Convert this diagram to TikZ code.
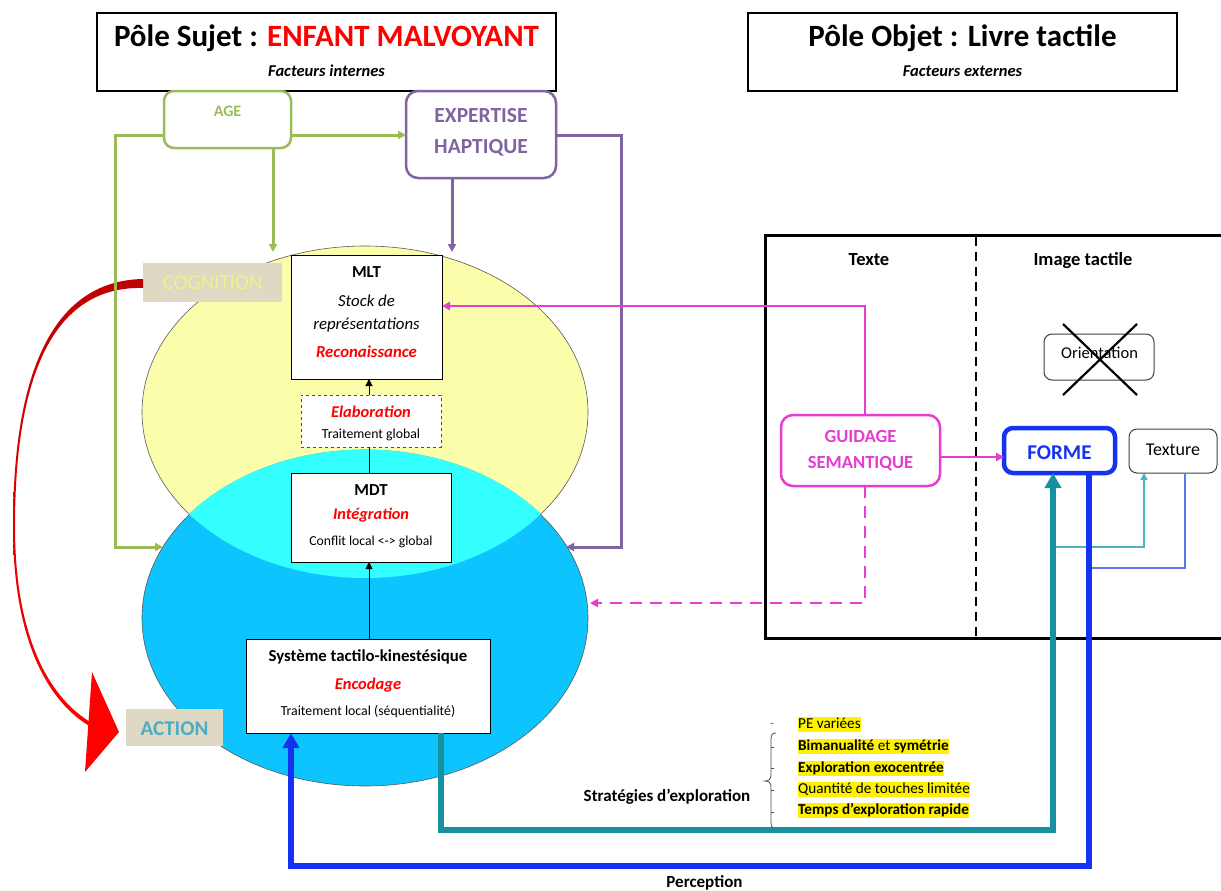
\documentclass[tikz,border=0pt]{standalone}
\usepackage{fontspec}
\setmainfont{Carlito}
\usetikzlibrary{arrows.meta,calc}
\definecolor{cgreen}{HTML}{9BBB59}
\definecolor{cpurple}{HTML}{8064A2}
\definecolor{cmag}{HTML}{E63CD2}
\definecolor{cblue}{HTML}{1432F0}
\definecolor{cteal}{HTML}{17919F}
\definecolor{cteallt}{HTML}{4DB3C2}
\definecolor{cbluelt}{HTML}{5A78F0}
\definecolor{ctan}{HTML}{DDD9C3}
\definecolor{ccog}{HTML}{F0F08C}
\definecolor{cact}{HTML}{4BACC6}
\definecolor{cyel}{HTML}{FAFDAA}
\definecolor{ccyan}{HTML}{33FFFF}
\definecolor{cell}{HTML}{0DC4FF}
\definecolor{cdred}{HTML}{C00000}
\newcommand\myfs[1]{\fontsize{#1}{#1}\selectfont}
\begin{document}
\begin{tikzpicture}[x=1pt,y=-1pt,
  bx/.style={inner sep=0pt, outer sep=0pt},
  txt/.style={inner sep=0pt, anchor=base, align=center},
  hl/.style={inner sep=0pt, anchor=base west, fill=yellow, text height=11.5pt, text depth=3.5pt, font=\myfs{15.2}},
  gline/.style={cgreen, line width=3pt},
  pline/.style={cpurple, line width=3pt},
  mline/.style={cmag, line width=2.8pt},
  tip/.style={-{Triangle[length=8pt,width=8pt]}},
  bigtip/.style={-{Triangle[length=15pt,width=16pt]}}
]
\clip (0,0) rectangle (1221,891);
\fill[white] (0,0) rectangle (1221,891);

% ellipses
\fill[cyel, draw=black!65, line width=0.6pt] (365,412) ellipse [x radius=223pt, y radius=166pt];
\fill[cell, draw=black!65, line width=0.6pt] (365,618) ellipse [x radius=223pt, y radius=168pt];
\begin{scope}
  \clip (365,618) ellipse [x radius=223pt, y radius=168pt];
  \fill[ccyan] (365,412) ellipse [x radius=223pt, y radius=166pt];
\end{scope}
\begin{scope}
  \clip (365,412) ellipse [x radius=223pt, y radius=166pt];
  \draw[ccyan, line width=0.9pt] (365,618) ellipse [x radius=223pt, y radius=168pt];
\end{scope}

% title boxes
\node[bx, draw, line width=1.8pt, minimum width=459pt, minimum height=78pt] (poleS) at (326.5,52) {};
\node[txt, font=\bfseries\myfs{31}] (poleSt) at (326.5,47) {Pôle Sujet : \textcolor{red}{ENFANT MALVOYANT}};
\node[txt, font=\bfseries\itshape\myfs{16.5}] (poleSf) at (326.5,77) {Facteurs internes};
\node[bx, draw, line width=1.8pt, minimum width=429pt, minimum height=78pt] (poleO) at (962.5,52) {};
\node[txt, font=\bfseries\myfs{31}] (poleOt) at (962.5,47) {Pôle Objet : Livre tactile};
\node[txt, font=\bfseries\itshape\myfs{16.5}] (poleOf) at (962.5,77) {Facteurs externes};

% red curve COGNITION -> ACTION
\node[bx, fill=ctan, minimum width=139pt, minimum height=39pt] (cog) at (212.5,282.5) {};
\node[bx, fill=ctan, minimum width=97pt, minimum height=37pt] (act) at (174.5,727.5) {};
\shade[top color=cdred, bottom color=red]
  ($(cog.west)+(0,-3.5)$) .. controls (28,281) and (13,430) .. (13,527)
  .. controls (13,640) and (48,703) .. (92,727.5)
  -- (92,723) .. controls (51,699.5) and (15,640) .. (15,527)
  .. controls (15,432) and (29,285) .. ($(cog.west)+(0,5.5)$) -- cycle;
\fill[red] (92,672) -- ($(act.west)+(-7,4.5)$) -- (85,772) -- cycle;

% AGE / EXPERTISE
\node[bx, draw=cgreen, line width=2.5pt, rounded corners=10pt, minimum width=127pt, minimum height=57pt] (age) at (227.5,119.5) {};
\node[txt, font=\bfseries\myfs{16}, text=cgreen] (aget) at (227.5,117) {AGE};
\node[bx, draw=cpurple, line width=2.5pt, rounded corners=12pt, minimum width=150pt, minimum height=87pt] (exp) at (481,134.5) {};
\node[txt, font=\bfseries\myfs{21.5}, text=cpurple] (expt1) at (481,122) {EXPERTISE};
\node[txt, font=\bfseries\myfs{21.5}, text=cpurple] (expt2) at (481,153) {HAPTIQUE};

\coordinate (gTop) at (273,252);
\coordinate (gIn) at (163,547);
\coordinate (pTop) at (452,252);
\coordinate (pIn) at (566,547);
\draw[gline, tip] (age.east |- 0,135) -- (exp.west |- 0,135);
\draw[gline, tip] (age.west |- 0,135) -- (115,135) -- (115,547) -- (gIn);
\draw[gline, tip] (age.south -| 273,0) -- (gTop);
\draw[pline, tip] (exp.south -| 452,0) -- (pTop);
\draw[pline, tip] (exp.east |- 0,135) -- (621,135) -- (621,547) -- (pIn);

\node[txt, font=\myfs{21}, text=ccog] (cogt) at (212.5,289) {COGNITION};
\node[txt, font=\bfseries\myfs{21}, text=cact] (actt) at (174.5,735) {ACTION};

% central boxes
\node[bx, draw, fill=white, line width=1pt, minimum width=151pt, minimum height=124pt] (mlt) at (366.5,317) {};
\node[txt, font=\bfseries\myfs{16.8}] (mlt1) at (366.5,277) {MLT};
\node[txt, font=\itshape\myfs{16.8}] (mlt2) at (366.5,306) {Stock de};
\node[txt, font=\itshape\myfs{16.8}] (mlt3) at (366.5,329) {représentations};
\node[txt, font=\bfseries\itshape\myfs{16.8}, text=red] (mlt4) at (366.5,357) {Reconaissance};

\node[bx, draw=black!70, dashed, fill=white, line width=1pt, minimum width=140pt, minimum height=52pt] (ela) at (371,421) {};
\node[txt, font=\bfseries\itshape\myfs{16.5}, text=red] (ela1) at (371,417) {Elaboration};
\node[txt, font=\myfs{13.8}] (ela2) at (371,438) {Traitement global};

\node[bx, draw, fill=white, line width=1pt, minimum width=160pt, minimum height=89pt] (mdt) at (371,517.5) {};
\node[txt, font=\bfseries\myfs{16.8}] (mdt1) at (371,495) {MDT};
\node[txt, font=\bfseries\itshape\myfs{16.3}, text=red] (mdt2) at (371,519) {Intégration};
\node[txt, font=\myfs{13.7}] (mdt3) at (371,545) {Conflit local <-> global};

\node[bx, draw, fill=white, line width=1pt, minimum width=244pt, minimum height=94pt] (sys) at (368,686) {};
\node[txt, font=\bfseries\myfs{16.8}] (sys1) at (368,661) {Système tactilo-kinestésique};
\node[txt, font=\bfseries\itshape\myfs{16.5}, text=red] (sys2) at (368,689) {Encodage};
\node[txt, font=\myfs{13.8}] (sys3) at (368,715) {Traitement local (séquentialité)};

\draw[line width=1pt, -{Triangle[length=7pt,width=7pt]}] (ela.north -| 369,0) -- (mlt.south -| 369,0);
\draw[line width=1pt] (mdt.north -| 369,0) -- (ela.south -| 369,0);
\draw[line width=1pt, -{Triangle[length=7pt,width=7pt]}] (sys.north -| 369,0) -- (mdt.south -| 369,0);

% right panel
\node[bx, draw, line width=3pt, minimum width=470pt, minimum height=403pt] (panel) at (1000,436.5) {};
\draw[line width=2.5pt, dash pattern=on 9pt off 6pt] (976,236.5) -- (976,636.5);
\node[txt, font=\bfseries\myfs{18.5}] (texte) at (869,265) {Texte};
\node[txt, font=\bfseries\myfs{18.5}] (imgt) at (1083,265) {Image tactile};

\node[bx, draw=black!75, line width=1pt, rounded corners=8pt, minimum width=110pt, minimum height=46pt] (orient) at (1099,357) {};
\node[txt, font=\myfs{16.5}] (orientt) at (1099.5,358) {Orientation};
\draw[line width=2.2pt] (1063,324) -- (1137,395);
\draw[line width=2.2pt] (1137,324) -- (1063,395);

\node[bx, draw=cmag, line width=2.5pt, rounded corners=12pt, minimum width=159pt, minimum height=71pt] (guid) at (860.5,450.5) {};
\node[txt, font=\bfseries\myfs{18.5}, text=cmag] (guid1) at (860.5,442) {GUIDAGE};
\node[txt, font=\bfseries\myfs{18.5}, text=cmag] (guid2) at (860.5,468) {SEMANTIQUE};

\node[bx, draw=cblue, line width=4.5pt, rounded corners=9pt, minimum width=111pt, minimum height=45pt] (forme) at (1059.5,450.5) {};
\node[txt, font=\bfseries\myfs{21}, text=cblue] (formet) at (1059.5,459) {FORME};
\node[bx, draw=black!75, line width=1pt, rounded corners=8pt, minimum width=88pt, minimum height=44pt] (tex) at (1173,451) {};
\node[txt, font=\myfs{18}] (text) at (1173,455) {Texture};

\coordinate (mIn) at (590,603);
\draw[mline, tip] (guid.north -| 865,0) -- (865,306) -- (mlt.east |- 0,306);
\draw[mline, tip] (guid.east |- 0,457) -- (forme.west |- 0,457);
\draw[mline, tip, dash pattern=on 12pt off 8pt] (guid.south -| 865,0) -- (865,603) -- (mIn);

% thin lines to texture
\coordinate (tT) at (1053,547);
\coordinate (bT) at (1089,568);
\draw[cteallt, line width=1.3pt, -{Triangle[length=7pt,width=7pt]}] (tT) -- (1144,547) -- (tex.south -| 1144,0);
\draw[cbluelt, line width=1.3pt] (bT) -- (1185,568) -- (tex.south -| 1185,0);

% thick loops
\draw[cteal, line width=5.5pt, bigtip] (sys.south -| 441,0) -- (441,830) -- (1053,830) -- (forme.south -| 1053,0);
\draw[cblue, line width=5.5pt, bigtip] (forme.south -| 1089,0) -- (1089,866) -- (291,866) -- (sys.south -| 291,0);

% strategies
\node[txt, font=\bfseries\myfs{17}] (strat) at (667,801) {Stratégies d’exploration};
\node[txt, font=\bfseries\myfs{17}] (perc) at (704.5,887) {Perception};
\node[txt, font=\myfs{13}, text=black!60] (dash) at (772,727) {-};
\draw[black!70, line width=0.8pt] (776,733) .. controls (772,733) and (771,735) .. (771,740) -- (771,775)
  .. controls (771,779) and (769,781) .. (765,781) .. controls (769,781) and (771,783) .. (771,787)
  -- (771,822) .. controls (771,826) and (772,827) .. (773,828);
\foreach \yy in {747,768,790,812} \draw[black!70, line width=0.8pt] (771,\yy) -- (774,\yy);
\node[hl] (l1) at (798,728) {PE variées};
\node[hl] (l2) at (798,750) {\textbf{Bimanualité} et \textbf{symétrie}};
\node[hl] (l3) at (798,772) {\textbf{Exploration exocentrée}};
\node[hl] (l4) at (798,793) {Quantité de touches limitée};
\node[hl] (l5) at (798,814) {\textbf{Temps d’exploration rapide}};
\end{tikzpicture}
\end{document}
